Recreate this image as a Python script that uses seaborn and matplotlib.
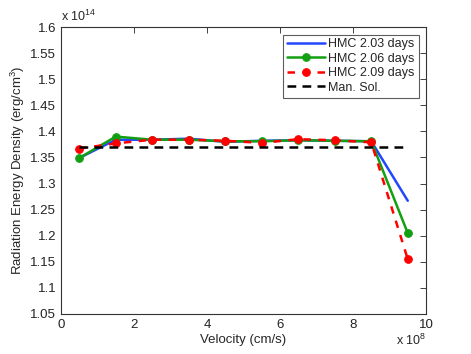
import numpy as np
import pandas as pd
import seaborn as sns
import matplotlib.pyplot as plt

velocity = [0.5, 1.5, 2.5, 3.5, 4.5, 5.5, 6.5, 7.5, 8.5, 9.5]
hmc_203 = [1.349, 1.384, 1.384, 1.386, 1.380, 1.382, 1.383, 1.382, 1.381, 1.267]
hmc_206 = [1.349, 1.390, 1.384, 1.384, 1.381, 1.381, 1.383, 1.382, 1.381, 1.205]
hmc_209 = [1.367, 1.377, 1.384, 1.384, 1.382, 1.378, 1.385, 1.383, 1.379, 1.155]
man_sol = [1.371] * len(velocity)

sns.set_style('white')
plt.rcParams['font.family'] = ['Liberation Sans', 'DejaVu Sans']
plt.rcParams['mathtext.fontset'] = 'custom'
plt.rcParams['mathtext.rm'] = 'Liberation Sans'

df = pd.DataFrame({'v': velocity, 'a': hmc_203, 'b': hmc_206, 'c': hmc_209, 'm': man_sol})

fig = plt.figure(figsize=(4.71, 3.54), dpi=100)
ax = fig.add_axes([0.1295, 0.113, 0.775, 0.8107])

sns.lineplot(data=df, x='v', y='a', ax=ax, color='#2346ff', lw=1.8, label='HMC 2.03 days')
sns.lineplot(data=df, x='v', y='b', ax=ax, color='#12a012', lw=1.8, marker='o', ms=5.5,
             mec='#12a012', label='HMC 2.06 days')
sns.lineplot(data=df, x='v', y='c', ax=ax, color='#ff0000', lw=1.8, ls=(0, (3, 3)), marker='o', ms=5.5,
             mec='#ff0000', label='HMC 2.09 days')
sns.lineplot(data=df, x='v', y='m', ax=ax, color='black', lw=1.8, ls=(0, (3.5, 2.5)), label='Man. Sol.')

ax.set_xlim(0, 10)
ax.set_ylim(1.05, 1.6)
ax.set_xticks(np.arange(0, 11, 2))
ax.set_yticks(np.arange(1.05, 1.6001, 0.05))
ax.set_yticklabels(['1.05', '1.1', '1.15', '1.2', '1.25', '1.3', '1.35', '1.4', '1.45', '1.5', '1.55', '1.6'])
ax.tick_params(direction='in', top=True, right=True, labelsize=9.5, length=4, width=0.6, colors='#222222')
for s in ax.spines.values():
    s.set_color('#333333')
    s.set_linewidth(0.8)

ax.set_xlabel('Velocity (cm/s)', fontsize=9.5, labelpad=2)
ax.set_ylabel('Radiation Energy Density (erg/cm$^3$)', fontsize=9.5, labelpad=2)
ax.text(0.0, 1.012, r'x 10$^{14}$', transform=ax.transAxes, fontsize=9, ha='left', va='bottom')
ax.text(1.0, -0.065, r'x 10$^{8}$', transform=ax.transAxes, fontsize=9, ha='right', va='top')

leg = ax.legend(loc='upper right', fontsize=9, frameon=True, fancybox=False, borderpad=0.3,
                labelspacing=0.2, handlelength=3.0, handletextpad=0.3, borderaxespad=0.6)
leg.get_frame().set_edgecolor('#333333')
leg.get_frame().set_linewidth(0.8)

fig.savefig('out.png', dpi=100)
